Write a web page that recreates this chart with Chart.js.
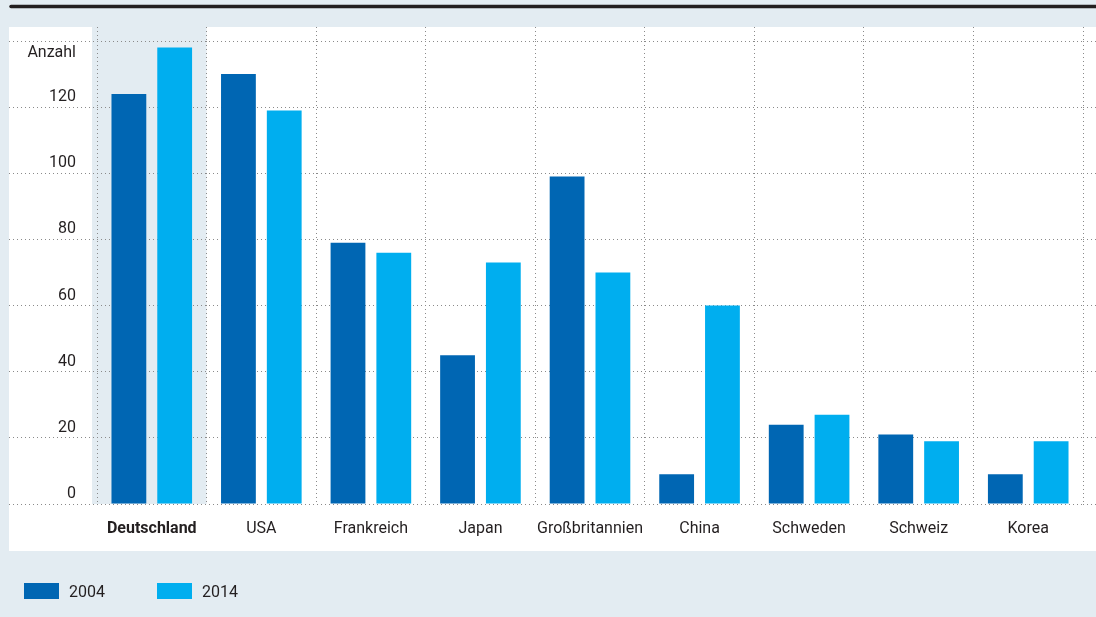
<!DOCTYPE html>
<html lang="de">
<head>
<meta charset="utf-8">
<title>Anzahl 2004 und 2014</title>
<script src="https://cdn.jsdelivr.net/npm/chart.js@4.4.1/dist/chart.umd.min.js"></script>
<style>
  html, body { margin: 0; padding: 0; background: #e3ecf2; }
  #wrap { position: relative; width: 1096px; height: 617px; }
  #legend { position: absolute; left: 24px; top: 583px; display: flex; font: 16px Roboto, sans-serif; color: #231f20; }
  .item { display: flex; align-items: center; width: 133px; height: 16px; }
  .box { width: 35px; height: 16px; margin-right: 10px; }
</style>
</head>
<body>
<div id="wrap">
  <canvas id="chart"></canvas>
  <div id="legend"></div>
</div>
<script>
const countries = ["Deutschland", "USA", "Frankreich", "Japan", "Großbritannien", "China", "Schweden", "Schweiz", "Korea"];
const seriesLabels = ["2004", "2014"];
const values2004 = [124, 130, 79, 45, 99, 9, 24, 21, 9];
const values2014 = [138, 119, 76, 73, 70, 60, 27, 19, 19];
const yTicks = [0, 20, 40, 60, 80, 100, 120, 140];
const yUnit = "Anzahl";

const FONT = "Roboto, 'Noto Sans', sans-serif";
const TEXT = "#231f20";
const DOTS = "#8a8a8a";
const PANEL_BG = "#e3ecf2";

const useTicks = (scale) => { scale.ticks = yTicks.map((v) => ({ value: v })); };

// background panel, highlight for first category, top rule, unit label
const decoPlugin = {
  id: "deco",
  beforeDraw(chart) {
    const { ctx, scales } = chart;
    const x = scales.x, y = scales.y;
    ctx.save();
    ctx.strokeStyle = TEXT;
    ctx.lineWidth = 3.5;
    ctx.lineCap = "round";
    ctx.beginPath();
    ctx.moveTo(11, 6.5);
    ctx.lineTo(1100, 6.5);
    ctx.stroke();

    ctx.fillStyle = "#ffffff";
    ctx.fillRect(9, 27, chart.width - 9, 524);

    const w = x.width / countries.length;
    const cx = x.getPixelForValue(0);
    ctx.fillStyle = PANEL_BG;
    ctx.fillRect(cx - w / 2 - 5, 27, w + 5, y.getPixelForValue(0) - 27);
    ctx.restore();
  },
  afterDraw(chart) {
    const { ctx } = chart;
    const y = chart.scales.y;
    ctx.save();
    ctx.fillStyle = TEXT;
    ctx.font = "16px " + FONT;
    ctx.textAlign = "right";
    ctx.textBaseline = "alphabetic";
    ctx.fillText(yUnit, 76, y.getPixelForValue(yTicks[yTicks.length - 1]) + 16);
    ctx.restore();
  },
};

const dotted = { color: DOTS, tickColor: DOTS, lineWidth: 1, tickBorderDash: [1, 3] };

const chart = new Chart(document.getElementById("chart"), {
  type: "bar",
  data: {
    labels: countries,
    datasets: [
      { label: seriesLabels[0], data: values2004, backgroundColor: "#0066b3" },
      { label: seriesLabels[1], data: values2014, backgroundColor: "#00aeef" },
    ],
  },
  options: {
    responsive: true,
    maintainAspectRatio: false,
    animation: false,
    layout: { padding: { top: 27, left: 0, right: 0, bottom: 0 } },
    datasets: { bar: { categoryPercentage: 0.836, barPercentage: 0.76 } },
    plugins: {
      legend: { display: false },
      tooltip: { enabled: true },
    },
    scales: {
      x: {
        position: "bottom",
        grid: { ...dotted, offset: true, drawTicks: false },
        border: { display: false, dash: [1, 3] },
        ticks: {
          color: TEXT,
          padding: 15,
          autoSkip: false,
          maxRotation: 0,
          minRotation: 0,
          font: (ctx) => ({ family: FONT, size: 16, weight: ctx.index === 0 ? "bold" : "normal" }),
        },
        afterFit: (s) => { s.height = 113; },
      },
      x2: {
        type: "category",
        position: "top",
        grid: { ...dotted, offset: true, drawOnChartArea: false, tickLength: 14 },
        border: { display: false, dash: [1, 3] },
        ticks: { display: false },
        afterFit: (s) => { s.height = 14; },
      },
      y: {
        position: "left",
        min: 0,
        max: 140,
        afterBuildTicks: useTicks,
        grid: { ...dotted, tickLength: 88 },
        border: { display: false, dash: [1, 3] },
        ticks: {
          color: TEXT,
          padding: -67,
          labelOffset: -10,
          font: { family: FONT, size: 16 },
          callback: (v) => (v === yTicks[yTicks.length - 1] ? "" : v),
        },
        afterFit: (s) => { s.width = 97; },
      },
      y2: {
        position: "right",
        min: 0,
        max: 140,
        afterBuildTicks: useTicks,
        grid: { ...dotted, drawOnChartArea: false, tickLength: 13 },
        border: { display: false, dash: [1, 3] },
        ticks: { display: false },
        afterFit: (s) => { s.width = 13; },
      },
    },
  },
  plugins: [decoPlugin],
});

// legend built from the chart's datasets
const legendEl = document.getElementById("legend");
chart.data.datasets.forEach((ds) => {
  const item = document.createElement("div");
  item.className = "item";
  const box = document.createElement("span");
  box.className = "box";
  box.style.background = ds.backgroundColor;
  const txt = document.createElement("span");
  txt.textContent = ds.label;
  item.appendChild(box);
  item.appendChild(txt);
  legendEl.appendChild(item);
});
</script>
</body>
</html>
